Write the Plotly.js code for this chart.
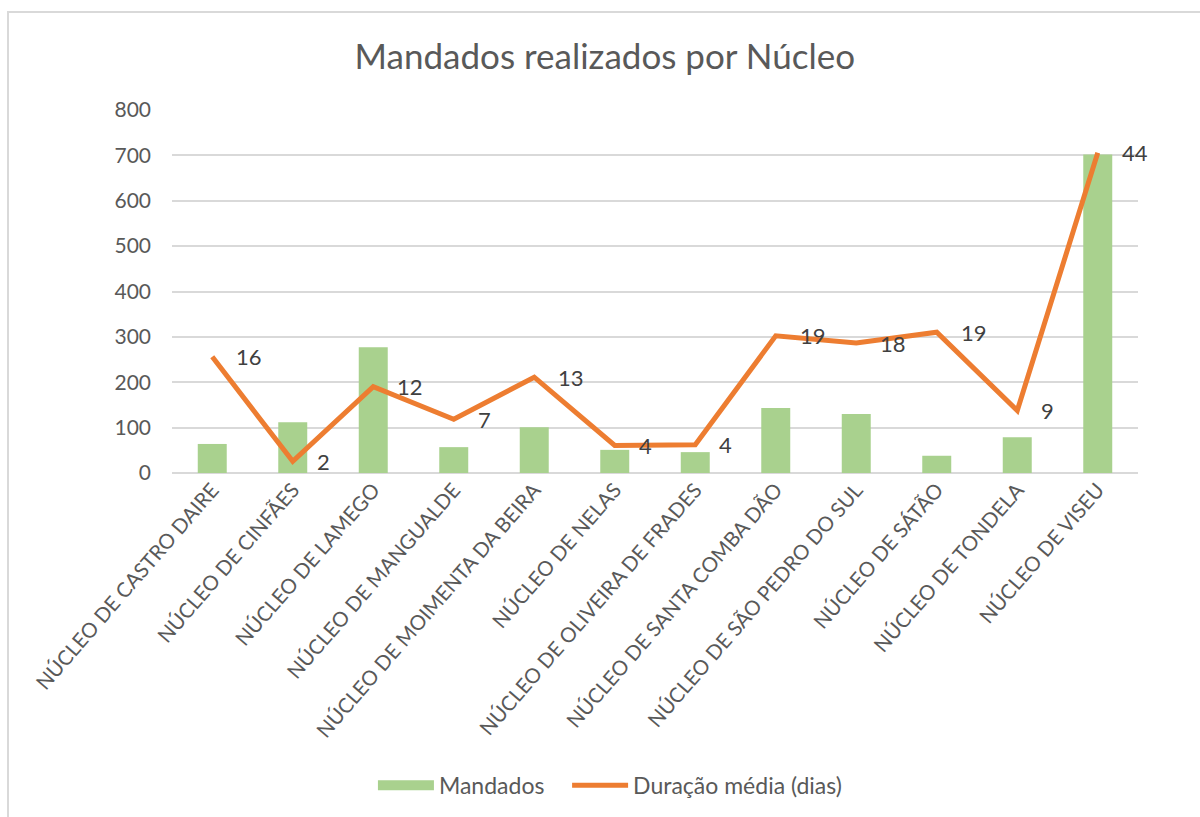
<!DOCTYPE html>
<html>
<head>
<meta charset="utf-8">
<script src="https://cdn.plot.ly/plotly-3.0.1.min.js"></script>
<style>
  html, body { margin: 0; padding: 0; background: #ffffff; }
  #wrap { position: relative; width: 1200px; height: 817px; overflow: hidden; }
  #chart { position: absolute; left: 0; top: 0; width: 1200px; height: 817px; }
  #frame { position: absolute; left: 7px; top: 11px; width: 1300px; height: 900px;
           border: 2px solid #d9d9d9; box-sizing: border-box; pointer-events: none; }
</style>
</head>
<body>
<div id="wrap">
  <div id="chart"></div>
  <div id="frame"></div>
</div>
<script>
const categories = [
  "NÚCLEO DE CASTRO DAIRE",
  "NÚCLEO DE CINFÃES",
  "NÚCLEO DE LAMEGO",
  "NÚCLEO DE MANGUALDE",
  "NÚCLEO DE MOIMENTA DA BEIRA",
  "NÚCLEO DE NELAS",
  "NÚCLEO DE OLIVEIRA DE FRADES",
  "NÚCLEO DE SANTA COMBA DÃO",
  "NÚCLEO DE SÃO PEDRO DO SUL",
  "NÚCLEO DE SÁTÃO",
  "NÚCLEO DE TONDELA",
  "NÚCLEO DE VISEU"
];
const mandados = [64, 112, 277, 57, 101, 51, 46, 143, 130, 38, 79, 702];
const duracaoMedia = [16.0, 1.6, 11.9, 7.4, 13.2, 3.8, 3.9, 18.9, 17.9, 19.4, 8.6, 44.1];
const duracaoLabels = duracaoMedia.map(v => String(Math.round(v)));

const FONT = "Lato, 'Open Sans', sans-serif";
const GREEN = "#a9d18e";
const ORANGE = "#ed7d31";

const traces = [
  {
    type: "bar",
    name: "Mandados",
    x: categories,
    y: mandados,
    marker: { color: GREEN },
    showlegend: false,
    hoverinfo: "x+y"
  },
  {
    // legend-only entry so the "Mandados" swatch is a wide block like the original
    type: "scatter",
    mode: "lines",
    name: "Mandados",
    x: [null],
    y: [null],
    line: { color: GREEN, width: 14 },
    showlegend: true,
    legend: "legend",
    hoverinfo: "skip"
  },
  {
    type: "scatter",
    mode: "lines",
    name: "Duração média (dias)",
    x: categories,
    y: duracaoMedia,
    yaxis: "y2",
    line: { color: ORANGE, width: 5, shape: "linear" },
    legend: "legend2",
    hoverinfo: "x+y"
  }
];

const annotations = categories.map((c, i) => ({
  x: c,
  y: duracaoMedia[i],
  xref: "x",
  yref: "y2",
  text: duracaoLabels[i],
  showarrow: false,
  xanchor: "left",
  yanchor: "middle",
  xshift: 22,
  font: { family: FONT, size: 22, color: "#404040" }
}));

const legendBase = {
  orientation: "h",
  xanchor: "left",
  y: -0.855, yanchor: "middle",
  font: { family: FONT, size: 23, color: "#595959" },
  itemwidth: 56,
  bgcolor: "rgba(0,0,0,0)"
};

const layout = {
  width: 1200,
  height: 817,
  paper_bgcolor: "rgba(0,0,0,0)",
  plot_bgcolor: "#ffffff",
  margin: { l: 172, r: 62, t: 110, b: 343, pad: 0 },
  font: { family: FONT, color: "#595959" },
  title: {
    text: "Mandados realizados por Núcleo",
    font: { family: FONT, size: 35, color: "#595959" },
    x: 0.504, xanchor: "center",
    y: 0.930, yanchor: "middle"
  },
  bargap: 0.64,
  xaxis: {
    type: "category",
    range: [-0.5, 11.5],
    autorange: false,
    tickangle: -49,
    tickfont: { family: FONT, size: 20.5, color: "#595959" },
    showgrid: false,
    showline: false,
    ticks: "",
    automargin: false,
    fixedrange: true
  },
  yaxis: {
    range: [0, 800],
    dtick: 100,
    tickfont: { family: FONT, size: 21, color: "#595959" },
    gridcolor: "#d9d9d9",
    gridwidth: 1.5,
    zeroline: true,
    zerolinecolor: "#d9d9d9",
    zerolinewidth: 2,
    showline: false,
    ticks: "",
    ticklabelstandoff: 20,
    automargin: false,
    fixedrange: true
  },
  yaxis2: {
    overlaying: "y",
    side: "right",
    range: [0, 50],
    visible: false,
    showgrid: false,
    fixedrange: true
  },
  showlegend: true,
  legend: Object.assign({}, legendBase, { x: 0.208 }),
  legend2: Object.assign({}, legendBase, { x: 0.409 }),
  annotations: annotations
};

Plotly.newPlot("chart", traces, layout, { displayModeBar: false, responsive: false });
</script>
</body>
</html>
